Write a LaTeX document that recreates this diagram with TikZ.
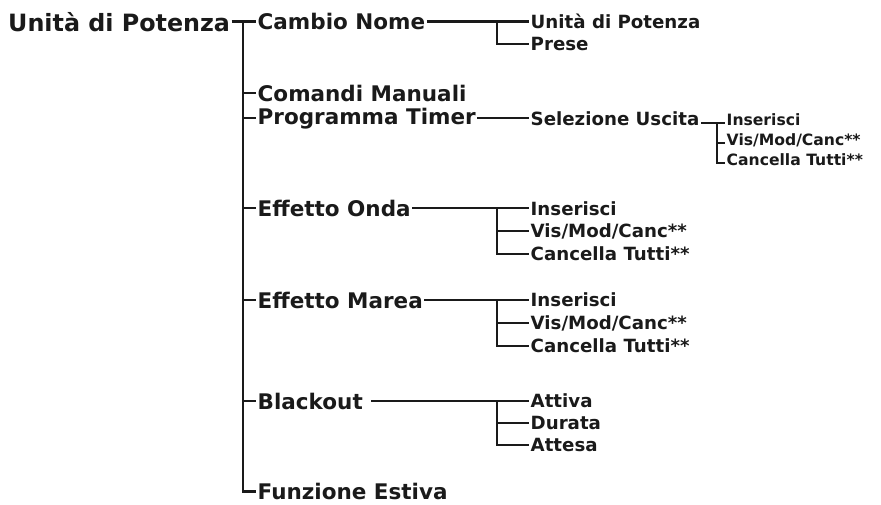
\documentclass[tikz,border=0pt]{standalone}
\usepackage{fontspec}
\setmainfont{DejaVu Sans}
\usetikzlibrary{positioning,calc}
\definecolor{ink}{HTML}{1A1A1A}

\begin{document}
\begin{tikzpicture}[x=1pt,y=-1pt,
    lv1/.style={anchor=west,inner xsep=1.5pt,inner ysep=0pt,text=ink,
      font=\fontsize{21.5}{25}\selectfont\bfseries},
    lv0/.style={lv1,font=\fontsize{23.8}{27}\selectfont\bfseries},
    lv2/.style={lv1,font=\fontsize{18.2}{21}\selectfont\bfseries},
    lv3/.style={lv1,font=\fontsize{15.6}{18}\selectfont\bfseries},
    br/.style={draw=ink,line width=2.4pt},
    br3/.style={draw=ink,line width=2pt}]
      \useasboundingbox (0,0) rectangle (881,505);

      \node[lv0] at (6.5,21.7)(root){Unità di Potenza};
      \node[lv1] at (256,21.7)(c0){Cambio Nome};
      \node[lv1] at (256,93.3)(k0){Comandi Manuali};
      \node[lv1] at (256,118.3)(p0){Programma Timer};
      \node[lv1] at (256,208.3)(o0){Effetto Onda};
      \node[lv1] at (256,300)(m0){Effetto Marea};
      \node[lv1] at (256,401)(b0){Blackout};
      \node[lv1] at (256,491.5)(f0){Funzione Estiva};

      \node[lv2] at (529,21.7)(c1){Unità di Potenza};
      \node[lv2] at (529,44)(c2){Prese};
      \node[lv2] at (529,118.3)(s0){Selezione Uscita};
      \node[lv2] at (529,208.3)(o1){Inserisci};
      \node[lv2] at (529,231)(o2){Vis/Mod/Canc**};
      \node[lv2] at (529,254)(o3){Cancella Tutti**};
      \node[lv2] at (529,300)(m1){Inserisci};
      \node[lv2] at (529,323)(m2){Vis/Mod/Canc**};
      \node[lv2] at (529,346)(m3){Cancella Tutti**};
      \node[lv2] at (529,401)(b1){Attiva};
      \node[lv2] at (529,423)(b2){Durata};
      \node[lv2] at (529,445)(b3){Attesa};

      \node[lv3] at (725,120)(s1){Inserisci};
      \node[lv3] at (725,140)(s2){Vis/Mod/Canc**};
      \node[lv3] at (725,160)(s3){Cancella Tutti**};

      \coordinate (t) at (243,21.7);
      \coordinate (j) at (497,0);
      \coordinate (q) at (717,0);

      \draw[br] (root.east) -- (c0.west);
      \draw[br] (t) |- (f0.west);
      \foreach \n in {k0,p0,o0,m0,b0}
        \draw[br] (t |- \n.west) -- (\n.west);

      \draw[br] (c0.east) -- (c1.west);
      \draw[br] (j |- c1.west) |- (c2.west);
      \draw[br] (p0.east) -- (s0.west);
      \draw[br] (o0.east) -- (o1.west);
      \draw[br] (m0.east) -- (m1.west);
      \draw[br] ([xshift=7pt]b0.east) -- (b1.west);
      \foreach \g in {o,m,b}{
        \draw[br] (j |- \g1.west) |- (\g3.west);
        \draw[br] (j |- \g2.west) -- (\g2.west);
      }

      \coordinate (s1l) at ([yshift=-3pt]s1.west);
      \coordinate (s2l) at ([yshift=-3pt]s2.west);
      \coordinate (s3l) at ([yshift=-3pt]s3.west);
      \draw[br3] (s0.east |- s1l) -- (s1l);
      \draw[br3] (q |- s1l) |- (s3l);
      \draw[br3] (q |- s2l) -- (s2l);
\end{tikzpicture}
\end{document}
